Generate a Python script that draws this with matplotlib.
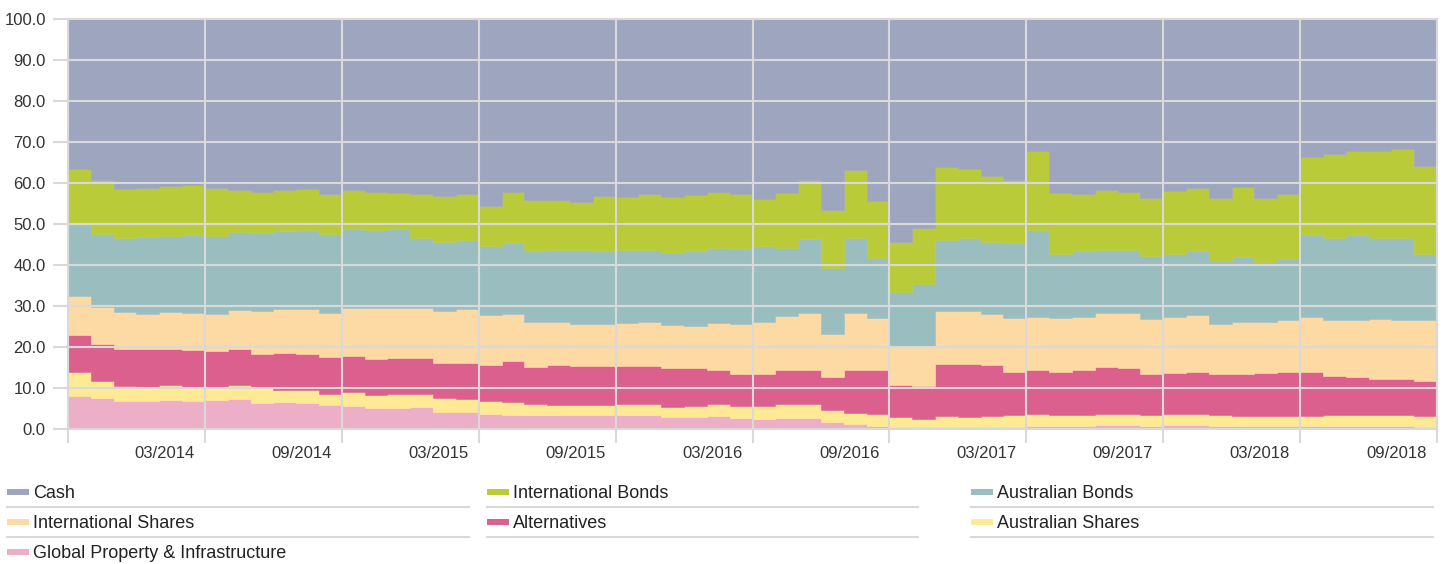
import numpy as np
import pandas as pd
import matplotlib
matplotlib.use("Agg")
import matplotlib.pyplot as plt
from matplotlib.transforms import ScaledTranslation
from matplotlib.patches import Rectangle
from matplotlib.lines import Line2D

plt.rcParams['font.family'] = ['Liberation Sans', 'DejaVu Sans']

# monthly asset allocation (%), Oct 2013 - Sep 2018
months = pd.date_range('2013-10-01', periods=60, freq='MS')

global_property = [8.1, 7.5, 6.9, 6.9, 7.1, 6.8, 7.0, 7.2, 6.4, 6.6, 6.4, 5.9,
                   5.7, 5.2, 5.2, 5.3, 4.2, 4.1, 3.7, 3.5, 3.3, 3.3, 3.3, 3.3,
                   3.3, 3.3, 2.9, 2.9, 3.1, 2.6, 2.4, 2.6, 2.8, 1.8, 1.1, 0.8,
                   0.6, 0.4, 0.6, 0.6, 0.6, 0.6, 0.8, 0.7, 0.8, 0.9, 0.9, 0.8,
                   0.9, 0.9, 0.7, 0.7, 0.7, 0.7, 0.7, 0.7, 0.7, 0.7, 0.7, 0.6]
aus_shares = [5.7, 4.3, 3.7, 3.4, 3.6, 3.5, 3.3, 3.5, 3.5, 3.0, 3.1, 2.7,
              3.3, 3.1, 3.4, 3.3, 3.3, 3.2, 3.1, 3.0, 2.8, 2.6, 2.6, 2.6,
              2.8, 2.7, 2.5, 2.6, 3.0, 3.0, 3.2, 3.5, 3.3, 2.8, 2.9, 2.9,
              2.3, 2.1, 2.5, 2.4, 2.5, 2.7, 2.9, 2.6, 2.7, 2.8, 2.7, 2.7,
              2.8, 2.8, 2.6, 2.5, 2.5, 2.5, 2.5, 2.6, 2.7, 2.8, 2.6, 2.5]
alternatives = [9.1, 9.0, 8.9, 9.1, 8.9, 9.0, 8.8, 8.7, 8.3, 9.0, 8.8, 8.9,
                8.8, 8.8, 8.7, 8.8, 8.7, 8.9, 8.8, 10.2, 8.9, 9.6, 9.4, 9.4,
                9.3, 9.4, 9.5, 9.3, 8.2, 7.8, 7.9, 8.2, 8.2, 8.0, 10.5, 10.6,
                7.8, 8.0, 12.8, 12.9, 12.6, 10.7, 10.6, 10.7, 11.0, 11.3, 11.2, 10.0,
                10.0, 10.1, 10.1, 10.3, 10.4, 10.6, 10.6, 9.7, 9.3, 8.7, 8.8, 8.7]
intl_shares = [9.5, 8.9, 9.1, 8.6, 8.9, 9.1, 9.0, 9.7, 10.7, 10.6, 10.9, 10.9,
               11.8, 12.4, 12.3, 12.2, 12.7, 13.0, 12.2, 11.3, 11.0, 10.7, 10.4, 10.3,
               10.5, 10.6, 10.5, 10.4, 11.6, 12.1, 12.7, 13.3, 13.9, 10.5, 13.9, 12.7,
               9.3, 9.5, 12.9, 12.8, 12.4, 13.0, 13.1, 13.1, 12.9, 13.4, 13.4, 13.3,
               13.6, 14.1, 12.2, 12.6, 12.4, 12.7, 13.6, 13.7, 14.0, 14.7, 14.4, 14.7]
aus_bonds = [17.4, 17.8, 18.1, 18.8, 18.6, 19.0, 19.0, 18.9, 18.9, 19.0, 19.3, 19.2,
             19.2, 19.0, 19.2, 17.1, 16.6, 17.0, 16.9, 17.3, 17.4, 17.5, 17.9, 17.9,
             17.7, 17.6, 17.6, 18.2, 18.3, 18.3, 18.4, 16.5, 18.1, 16.1, 18.2, 14.7,
             13.5, 15.4, 17.4, 18.0, 17.6, 18.4, 21.1, 15.7, 15.9, 15.3, 15.4, 15.3,
             15.3, 15.4, 15.3, 15.9, 14.7, 14.9, 19.8, 20.0, 20.5, 19.8, 20.0, 16.1]
intl_bonds = [13.5, 13.2, 11.8, 11.9, 12.2, 12.2, 11.7, 10.2, 10.1, 10.1, 10.1, 9.6,
              9.4, 9.2, 8.7, 10.6, 11.4, 11.2, 9.6, 12.4, 12.5, 12.2, 11.7, 13.3,
              12.9, 13.6, 13.6, 13.6, 13.7, 13.6, 11.4, 13.4, 14.4, 14.1, 16.5, 13.8,
              12.0, 13.7, 17.6, 16.6, 15.9, 15.4, 19.2, 14.7, 14.0, 14.5, 14.1, 14.3,
              15.4, 15.6, 15.5, 17.0, 15.7, 15.9, 19.2, 20.3, 20.6, 21.1, 21.7, 21.6]
cash = [36.7, 39.3, 41.5, 41.3, 40.7, 40.4, 41.2, 41.8, 42.1, 41.7, 41.4, 42.8,
        41.8, 42.3, 42.5, 42.7, 43.1, 42.6, 45.7, 42.3, 44.1, 44.1, 44.7, 43.2,
        43.5, 42.8, 43.4, 43.0, 42.1, 42.6, 44.0, 42.5, 39.3, 46.7, 36.9, 44.5,
        54.5, 50.9, 36.2, 36.7, 38.4, 39.2, 32.3, 42.5, 42.7, 41.8, 42.3, 43.6,
        42.0, 41.1, 43.6, 41.0, 43.6, 42.7, 33.6, 33.0, 32.2, 32.2, 31.8, 35.8]

# stacking order, bottom to top
series = [global_property, aus_shares, alternatives, intl_shares, aus_bonds, intl_bonds, cash]
names = ['Global Property & Infrastructure', 'Australian Shares', 'Alternatives',
         'International Shares', 'Australian Bonds', 'International Bonds', 'Cash']
colors = ['#EDAFC7', '#FEEA95', '#DB608E', '#FDD9A4', '#9ABEC0', '#B9CB39', '#9EA5BF']

W, H = 1447, 564
grid_c = '#d9d9d9'
text_c = '#333333'

fig = plt.figure(figsize=(W / 100, H / 100), dpi=100)
ax = fig.add_axes([68 / W, 1 - 429 / H, (1437 - 68) / W, (429 - 19) / H])

x = np.arange(len(months) + 1)
ys = [list(s) + [s[-1]] for s in series]
ax.stackplot(x, *ys, colors=colors, step='post', linewidth=0.4,
             edgecolor='face')

ax.set_xlim(0, len(months))
ax.set_ylim(0, 100)

# x ticks at end of every March/September
tick_pos = np.arange(0, len(months) + 1, 6)
tick_lab = [''] + [m.strftime('%m/%Y') for m in months[5::6]]
ax.set_xticks(tick_pos, tick_lab)
ax.set_yticks(np.arange(0, 101, 10), [f'{v:.1f}' for v in range(0, 101, 10)])

ax.grid(True, color=grid_c, linewidth=1.5)
ax.set_axisbelow(False)
for sp in ax.spines.values():
    sp.set_color(grid_c)
    sp.set_linewidth(1.5)

ax.tick_params(axis='x', length=10, width=1.5, color=grid_c, pad=2,
               labelsize=12, labelcolor=text_c)
ax.tick_params(axis='y', length=11, width=1.5, color=grid_c, pad=5,
               labelsize=12, labelcolor=text_c)
shift = ScaledTranslation(-0.10, 0, fig.dpi_scale_trans)
for lab in ax.get_xticklabels():
    lab.set_horizontalalignment('right')
    lab.set_transform(lab.get_transform() + shift)

# legend in 3 columns, row by row, with separator lines
leg_order = ['Cash', 'International Bonds', 'Australian Bonds',
             'International Shares', 'Alternatives', 'Australian Shares',
             'Global Property & Infrastructure']
col_x = [7, 487, 971]
col_end = [469, 918, 1433]
row_y = [492, 522, 552]
for i, name in enumerate(leg_order):
    r, c = divmod(i, 3)
    color = colors[names.index(name)]
    fig.add_artist(Rectangle((col_x[c] / W, 1 - (row_y[r] + 3) / H), 22 / W, 6 / H,
                             transform=fig.transFigure, color=color, lw=0))
    fig.text((col_x[c] + 26) / W, 1 - (row_y[r] + 2) / H, name, fontsize=13,
             color='#222222', va='center', ha='left')
    if r < 2:
        fig.add_artist(Line2D([col_x[c] / W, col_end[c] / W],
                              [1 - (row_y[r] + 15) / H] * 2,
                              transform=fig.transFigure, color=grid_c, lw=1.5))

fig.savefig('out.png', dpi=100)
